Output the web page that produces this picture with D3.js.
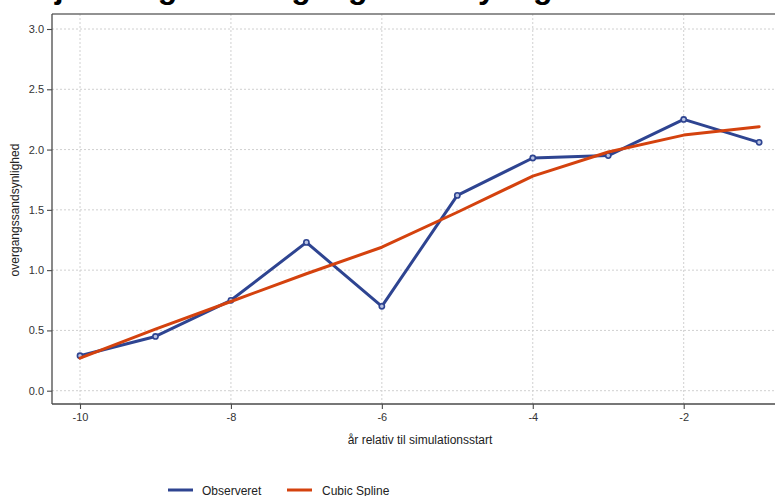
<!DOCTYPE html>
<html><head><meta charset="utf-8">
<script src="https://cdn.jsdelivr.net/npm/d3@7"></script>
<style>
html,body{margin:0;padding:0;background:#fff;}
svg{display:block;font-family:"Liberation Sans",Arial,sans-serif;}
</style></head>
<body>
<script>
const titleText = "Udjævning af overgangssandsynlighed";
const xLabel = "år relativ til simulationsstart";
const yLabel = "overgangssandsynlighed";
const years = [-10,-9,-8,-7,-6,-5,-4,-3,-2,-1];
const observed = [0.29,0.45,0.75,1.23,0.70,1.62,1.93,1.95,2.25,2.06];
const spline = [0.27,0.51,0.74,0.97,1.19,1.48,1.78,1.98,2.12,2.19];
const xTicks = [-10,-8,-6,-4,-2];
const yTicks = [0,0.5,1,1.5,2,2.5,3];
const xTickLabels = ["-10","-8","-6","-4","-2"];
const yTickLabels = ["0.0","0.5","1.0","1.5","2.0","2.5","3.0"];
const seriesNames = ["Observeret","Cubic Spline"];
const colors = ["#2e4491","#d4420e"];

const W=775,H=496;
const svg=d3.select("body").append("svg").attr("width",W).attr("height",H);
const panel={l:52,t:14,r:777,b:404};
const x=d3.scaleLinear().domain([-10,-2]).range([80,683.7]);
const y=d3.scaleLinear().domain([0,3]).range([390.7,29]);

// title (cut at top)
svg.append("text").attr("x",12).attr("y",-2.5).attr("font-size",32).attr("font-weight","bold")
  .attr("fill","#000").text(titleText);

// grid
const g=svg.append("g");
g.selectAll(".gx").data(xTicks).join("line")
 .attr("x1",d=>x(d)).attr("x2",d=>x(d)).attr("y1",panel.t).attr("y2",panel.b)
 .attr("stroke","#d0d0d0").attr("stroke-width",1).attr("stroke-dasharray","2,2");
g.selectAll(".gy").data(yTicks).join("line")
 .attr("y1",d=>y(d)).attr("y2",d=>y(d)).attr("x1",panel.l).attr("x2",panel.r)
 .attr("stroke","#d0d0d0").attr("stroke-width",1).attr("stroke-dasharray","2,2");

// border
svg.append("line").attr("x1",panel.l).attr("x2",panel.r).attr("y1",panel.t).attr("y2",panel.t)
 .attr("stroke","#6e6e6e").attr("stroke-width",1.3);

// axes
const xAxis=svg.append("g").attr("transform",`translate(0,${panel.b})`)
 .call(d3.axisBottom(x).tickValues(xTicks).tickSize(5).tickPadding(4).tickFormat((d,i)=>xTickLabels[i]));
const yAxis=svg.append("g").attr("transform",`translate(${panel.l},0)`)
 .call(d3.axisLeft(y).tickValues(yTicks).tickSize(5).tickPadding(3).tickFormat((d,i)=>yTickLabels[i]));
[xAxis,yAxis].forEach(a=>{
  a.select(".domain").attr("stroke","#4a4a4a").attr("stroke-width",1.3);
  a.selectAll(".tick line").attr("stroke","#4a4a4a").attr("stroke-width",1.1);
  a.selectAll(".tick text").attr("fill","#333").attr("font-size",11).attr("font-family","Liberation Sans, Arial, sans-serif");
});
xAxis.select(".domain").attr("d",`M${panel.l},0H${panel.r}`);
yAxis.select(".domain").attr("d",`M0,${panel.t}V${panel.b}`);

// axis titles
svg.append("text").attr("x",420).attr("y",444).attr("text-anchor","middle")
 .attr("font-size",12).attr("fill","#222").text(xLabel);
svg.append("text").attr("transform","translate(19,210) rotate(-90)").attr("text-anchor","middle")
 .attr("font-size",12).attr("fill","#222").text(yLabel);

// lines
const line=d3.line().x((d,i)=>x(years[i])).y(d=>y(d));
svg.append("path").datum(observed).attr("d",line).attr("fill","none")
 .attr("stroke",colors[0]).attr("stroke-width",3).attr("stroke-linejoin","round").attr("stroke-linecap","round");
svg.selectAll(".pt").data(observed).join("circle")
 .attr("cx",(d,i)=>x(years[i])).attr("cy",d=>y(d)).attr("r",2.6)
 .attr("fill","#b8c2e2").attr("stroke",colors[0]).attr("stroke-width",1.6);
svg.append("path").datum(spline).attr("d",line).attr("fill","none")
 .attr("stroke",colors[1]).attr("stroke-width",3).attr("stroke-linejoin","round").attr("stroke-linecap","round");

// legend
const leg=[{x1:168,tx:202},{x1:287,tx:322}];
leg.forEach((l,i)=>{
  svg.append("line").attr("x1",l.x1).attr("x2",l.x1+25).attr("y1",490).attr("y2",490)
   .attr("stroke",colors[i]).attr("stroke-width",3);
  svg.append("text").attr("x",l.tx).attr("y",494.5).attr("font-size",12).attr("fill","#222").text(seriesNames[i]);
});
</script>
</body></html>
